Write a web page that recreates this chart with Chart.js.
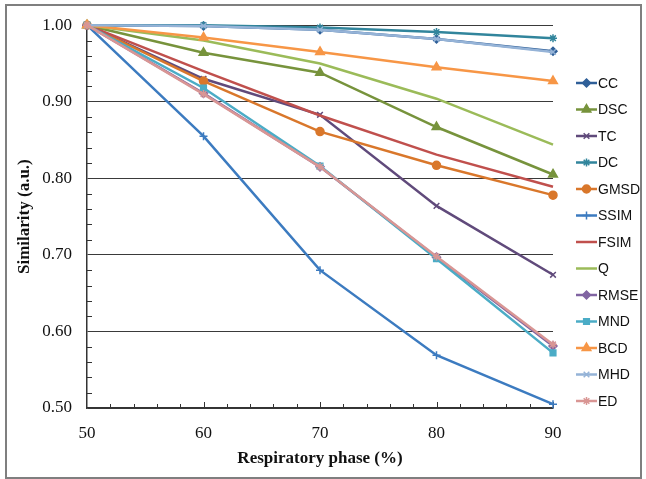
<!DOCTYPE html>
<html>
<head>
<meta charset="utf-8">
<script src="https://cdn.jsdelivr.net/npm/chart.js@4"></script>
<style>
  html, body { margin: 0; padding: 0; background: #fff; }
  #wrap { width: 646px; height: 479px; position: relative; }
</style>
</head>
<body>
<div id="wrap"><canvas id="chart" width="646" height="479"></canvas></div>
<script>
// respiratory phase (%)
const phases = [50, 60, 70, 80, 90];

const seriesNames = ['CC', 'DSC', 'TC', 'DC', 'GMSD', 'SSIM', 'FSIM', 'Q', 'RMSE', 'MND', 'BCD', 'MHD', 'ED'];

// similarity values
const ccVals   = [1.000, 0.999, 0.994, 0.982, 0.966];
const dscVals  = [1.000, 0.964, 0.938, 0.867, 0.805];
const tcVals   = [1.000, 0.930, 0.883, 0.764, 0.674];
const dcVals   = [1.000, 1.000, 0.997, 0.991, 0.983];
const gmsdVals = [1.000, 0.927, 0.861, 0.817, 0.778];
const ssimVals = [1.000, 0.855, 0.680, 0.569, 0.505];
const fsimVals = [1.000, 0.940, 0.882, 0.831, 0.789];
const qVals    = [1.000, 0.980, 0.950, 0.904, 0.844];
const rmseVals = [1.000, 0.911, 0.815, 0.697, 0.581];
const mndVals  = [1.000, 0.918, 0.816, 0.695, 0.572];
const bcdVals  = [1.000, 0.984, 0.965, 0.945, 0.927];
const mhdVals  = [1.000, 0.999, 0.994, 0.982, 0.965];
const edVals   = [1.000, 0.910, 0.815, 0.698, 0.583];

const allVals = [ccVals, dscVals, tcVals, dcVals, gmsdVals, ssimVals, fsimVals, qVals, rmseVals, mndVals, bcdVals, mhdVals, edVals];

const yTicks = [0.5, 0.6, 0.7, 0.8, 0.9, 1.0];

// style per series (colour, marker, marker radius)
const styles = [
    ['#2F5F98', 'rectRot', 4],
    ['#77933C', 'triangle', 5],
    ['#604A7B', 'crossRot', 4],
    ['#31859C', 'star', 4],
    ['#D9772B', 'circle', 4],
    ['#3C7BC0', 'cross', 4],
    ['#C0504D', 'circle', 0],
    ['#9BBB59', 'circle', 0],
    ['#8064A2', 'rectRot', 4],
    ['#4BACC6', 'rect', 4],
    ['#F79646', 'triangle', 5],
    ['#95B3D7', 'crossRot', 4],
    ['#D99694', 'star', 4]
];

const datasets = seriesNames.map((name, i) => {
    const [color, marker, r] = styles[i];
    return {
        label: name,
        data: allVals[i].map((v, k) => ({ x: phases[k], y: v })),
        borderColor: color,
        backgroundColor: color,
        borderWidth: 2.5,
        pointStyle: marker,
        pointRadius: r,
        pointBorderWidth: 1.5,
        pointBorderColor: color,
        pointBackgroundColor: color,
        clip: false,
        order: seriesNames.length - 1 - i
    };
});

// frame, minor ticks and legend, drawn like the Excel original
const decorations = {
    id: 'decorations',
    beforeDraw(chart) {
        const ctx = chart.ctx;
        ctx.save();
        ctx.fillStyle = '#fff';
        ctx.fillRect(0, 0, chart.width, chart.height);
        ctx.strokeStyle = '#7f7f7f';
        ctx.lineWidth = 2;
        ctx.strokeRect(6, 5, chart.width - 11, chart.height - 6);
        ctx.restore();
    },
    beforeDatasetsDraw(chart) {
        const ctx = chart.ctx;
        const xs = chart.scales.x, ys = chart.scales.y;
        const area = chart.chartArea;
        ctx.save();
        ctx.strokeStyle = '#333';
        ctx.lineWidth = 1;
        ctx.beginPath();
        for (let v = 52; v <= 90; v += 2) {
            const px = Math.round(xs.getPixelForValue(v)) + 0.5;
            const len = v % 10 === 0 ? 6 : 4;
            ctx.moveTo(px, area.bottom);
            ctx.lineTo(px, area.bottom - len);
        }
        for (let k = 26; k < 50; k++) {
            if (k % 5 === 0) continue;
            const py = Math.round(ys.getPixelForValue(k / 50)) + 0.5;
            ctx.moveTo(area.left, py);
            ctx.lineTo(area.left + 5, py);
        }
        ctx.stroke();
        ctx.restore();
    },
    afterDraw(chart) {
        const ctx = chart.ctx;
        const left = 576, top = 83, gap = 26.5, lineW = 21;
        ctx.save();
        ctx.font = '14px "Liberation Sans", Arial, sans-serif';
        ctx.textBaseline = 'middle';
        ctx.textAlign = 'left';
        chart.data.datasets.forEach((ds, i) => {
            const y = top + i * gap;
            ctx.strokeStyle = ds.borderColor;
            ctx.lineWidth = 2.5;
            ctx.beginPath();
            ctx.moveTo(left, y);
            ctx.lineTo(left + lineW, y);
            ctx.stroke();
            if (ds.pointRadius > 0) {
                ctx.fillStyle = ds.pointBackgroundColor;
                ctx.strokeStyle = ds.pointBorderColor;
                ctx.lineWidth = 1.5;
                Chart.helpers.drawPoint(ctx, {
                    pointStyle: ds.pointStyle,
                    radius: ds.pointRadius,
                    rotation: 0,
                    borderWidth: 1.5
                }, left + lineW / 2, y);
            }
            ctx.fillStyle = '#111';
            ctx.fillText(ds.label, left + lineW + 1, y + 1);
        });
        ctx.restore();
    }
};

const serif = '"Liberation Serif", "Times New Roman", serif';

new Chart(document.getElementById('chart'), {
    type: 'line',
    data: { datasets: datasets },
    options: {
        responsive: false,
        animation: false,
        layout: { padding: { left: 0, top: 22, right: 93, bottom: 0 } },
        plugins: {
            legend: { display: false },
            tooltip: { enabled: false }
        },
        scales: {
            x: {
                type: 'linear',
                min: 50,
                max: 90,
                afterFit: (scale) => { scale.height = 71; },
                ticks: {
                    stepSize: 10,
                    padding: 15,
                    color: '#111',
                    font: { family: serif, size: 17 }
                },
                grid: { display: false, drawTicks: false },
                border: { display: true, color: '#333', width: 1.5 },
                title: {
                    display: true,
                    text: 'Respiratory phase (%)',
                    color: '#111',
                    font: { family: serif, size: 17, weight: 'bold' },
                    padding: { top: 0, bottom: 10 }
                }
            },
            y: {
                min: 0.5,
                max: 1.0,
                afterFit: (scale) => { scale.width = 87; },
                afterBuildTicks: (scale) => { scale.ticks = yTicks.map(v => ({ value: v })); },
                ticks: {
                    padding: 15,
                    color: '#111',
                    font: { family: serif, size: 17 },
                    callback: (v) => Number(v).toFixed(2)
                },
                grid: { color: '#3a3a3a', lineWidth: 1, drawTicks: false },
                border: { display: true, color: '#333', width: 1.5 },
                title: {
                    display: true,
                    text: 'Similarity (a.u.)',
                    color: '#111',
                    font: { family: serif, size: 17, weight: 'bold' },
                    padding: { top: 14, bottom: 0 }
                }
            }
        }
    },
    plugins: [decorations]
});
</script>
</body>
</html>
